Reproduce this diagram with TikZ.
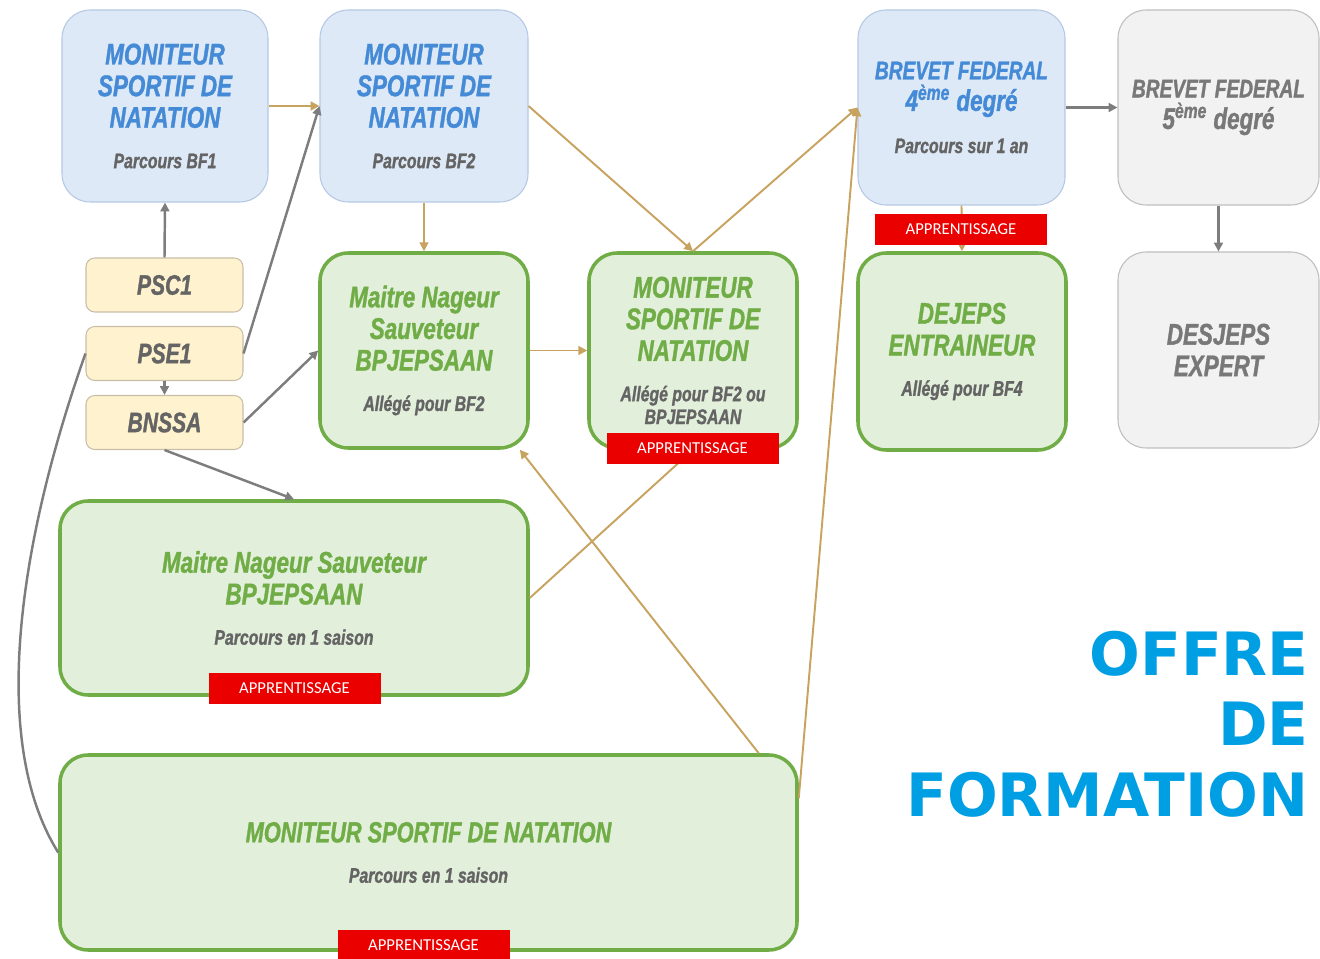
\documentclass[tikz,border=0pt]{standalone}
\usepackage{fontspec}
\usetikzlibrary{arrows.meta,calc}
\newfontfamily\boxfont{Liberation Sans Bold Italic}[FakeStretch=0.75, FakeBold=1.2]
\newfontfamily\titlefont{DejaVu Sans}
\newfontfamily\tagfont{Carlito}
\newcommand{\headfont}{\boxfont\fontsize{17pt}{18pt}\selectfont}
\newcommand{\brevetfont}{\boxfont\fontsize{14.5pt}{18pt}\selectfont}
\newcommand{\notefont}{\boxfont\fontsize{12pt}{13pt}\selectfont}
\newcommand{\notegrey}{\color{notetxt}}
\definecolor{bluefill}{RGB}{221,233,246}
\definecolor{blueline}{RGB}{180,200,228}
\definecolor{bluetxt}{RGB}{68,138,214}
\definecolor{greyfill}{RGB}{242,242,242}
\definecolor{greyline}{RGB}{190,190,190}
\definecolor{greytxt}{RGB}{120,120,120}
\definecolor{notetxt}{RGB}{100,100,100}
\definecolor{creamfill}{RGB}{255,242,206}
\definecolor{creamline}{RGB}{200,190,168}
\definecolor{greenfill}{RGB}{226,239,218}
\definecolor{greenline}{RGB}{112,173,71}
\definecolor{greentxt}{RGB}{112,173,71}
\definecolor{redtag}{RGB}{235,0,0}
\definecolor{tanline}{RGB}{200,162,95}
\definecolor{greyarrowcol}{RGB}{125,125,125}
\definecolor{titleblue}{RGB}{0,159,227}

\begin{document}
\begin{tikzpicture}[x=0.02cm, y=-0.02cm,
    every node/.style={inner sep=0pt, align=center},
    boxsize/.style 2 args={minimum width=#1*0.02cm, minimum height=#2*0.02cm},
    bluebox/.style={draw=blueline, fill=bluefill, line width=0.6pt, rounded corners=16pt, text=bluetxt, font=\headfont},
    greybox/.style={draw=greyline, fill=greyfill, line width=0.6pt, rounded corners=16pt, text=greytxt, font=\headfont},
    creambox/.style={draw=creamline, fill=creamfill, line width=0.6pt, rounded corners=5pt, text=notetxt,
      font=\boxfont\fontsize{16pt}{17pt}\selectfont, boxsize={157}{54}},
    greenbox/.style={draw=greenline, fill=greenfill, line width=2pt, rounded corners=16pt, text=greentxt, font=\headfont},
    apprent/.style={fill=redtag, text=white, font=\tagfont\fontsize{9.5pt}{10pt}\selectfont, boxsize={172}{31}},
    tanarrow/.style={draw=tanline, line width=1.1pt, -{Triangle[length=5pt,width=5pt]}},
    greyarrow/.style={draw=greyarrowcol, line width=1.4pt, -{Triangle[length=5pt,width=5pt]}}]
  \useasboundingbox (0,0) rectangle (1320,959);

  \node[bluebox, boxsize={206}{192}] (bfone) at (165,106) {MONITEUR\\SPORTIF DE\\NATATION\\[5pt]\notefont\notegrey Parcours BF1};
  \node[bluebox, boxsize={208}{192}] (bftwo) at (424,106) {MONITEUR\\SPORTIF DE\\NATATION\\[5pt]\notefont\notegrey Parcours BF2};
  \node[bluebox, boxsize={207}{195}] (bffour) at (961.5,107.5) {\brevetfont BREVET FEDERAL\\4\textsuperscript{ème} degré\\[6pt]\notefont\notegrey Parcours sur 1 an};
  \node[greybox, boxsize={201}{195}] (bffive) at (1218.5,107.5) {\brevetfont BREVET FEDERAL\\5\textsuperscript{ème} degré};

  \node[creambox] (psc) at (164.5,285) {PSC1};
  \node[creambox] (pse) at (164.5,353.5) {PSE1};
  \node[creambox] (bnssa) at (164.5,422.5) {BNSSA};

  \node[greenbox, boxsize={208}{195}] (mna) at (424,350.5) {Maitre Nageur\\Sauveteur\\BPJEPSAAN\\[5pt]\notefont\notegrey Allégé pour BF2};
  \node[greenbox, boxsize={208}{195}] (msa) at (693,350.5) {MONITEUR\\SPORTIF DE\\NATATION\\[5pt]\notefont\notegrey Allégé pour BF2 ou\\[-5pt]\notefont\notegrey BPJEPSAAN};
  \node[greenbox, boxsize={208}{197}] (dejeps) at (962,351.5) {DEJEPS\\ENTRAINEUR\\[5pt]\notefont\notegrey Allégé pour BF4};
  \node[greybox, boxsize={201}{196}] (desjeps) at (1218.5,350) {DESJEPS\\EXPERT};

  \node[greenbox, boxsize={468}{194}] (mnss) at (294,598) {Maitre Nageur Sauveteur\\BPJEPSAAN\\[5pt]\notefont\notegrey Parcours en 1 saison};
  \node[greenbox, boxsize={737}{195}] (msns) at (428.5,852.5) {\fontsize{16.5pt}{18pt}\selectfont MONITEUR SPORTIF DE NATATION\\[5pt]\notefont\notegrey Parcours en 1 saison};

  \draw[tanarrow] (bfone.east) -- (bftwo.west);
  \draw[greyarrow] (psc.north) -- (bfone.south);
  \draw[greyarrow] (pse.east) -- (bftwo.west);
  \draw[greyarrow] (pse.south) -- (bnssa.north);
  \draw[greyarrow] (bnssa.east) -- (mna.west);
  \draw[greyarrow] (bnssa.south) -- (mnss.north);
  \draw[draw=greyarrowcol, line width=1.4pt] (pse.west) .. controls +(-66,187) and +(-70,-112) .. (msns.west);
  \draw[tanarrow] (bftwo.south) -- (mna.north);
  \draw[tanarrow] (bftwo.east) -- (msa.north);
  \draw[tanarrow] (msa.north) -- (bffour.west);
  \draw[tanarrow] (mna.east) -- (msa.west);
  \draw[tanarrow] (mnss.east) -- (msa.south);
  \draw[tanarrow] ($(msns.north east)+(-40,0)$) -- (mna.-46);
  \draw[tanarrow] ($(msns.north east)+(0,45)$) -- (bffour.west);
  \draw[tanarrow] (bffour.south) -- (dejeps.north);
  \draw[greyarrow] (bffour.east) -- (bffive.west);
  \draw[greyarrow] (bffive.south) -- (desjeps.north);

  \node[apprent] (appbf) at (961,229.5) {APPRENTISSAGE};
  \node[apprent] (appmsa) at (692.5,448.5) {APPRENTISSAGE};
  \node[apprent] (appmnss) at (294.5,688.5) {APPRENTISSAGE};
  \node[apprent] (appmsns) at (423.5,945.5) {APPRENTISSAGE};

  \node[anchor=north east, align=right, text=titleblue, font=\titlefont\bfseries\fontsize{34pt}{40pt}\selectfont] (title) at (1309,631) {OFFRE\\DE\\FORMATION};
\end{tikzpicture}
\end{document}
